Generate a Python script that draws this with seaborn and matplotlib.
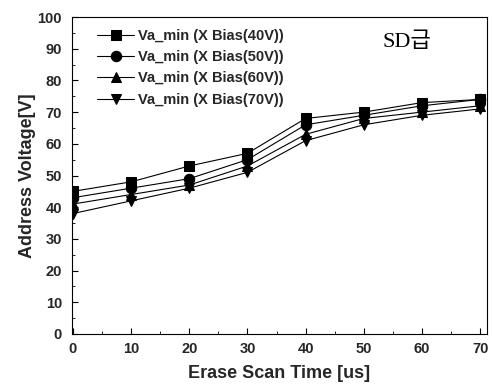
import numpy as np
import pandas as pd
import matplotlib
matplotlib.use("Agg")
import matplotlib.pyplot as plt
import seaborn as sns
from matplotlib.ticker import MultipleLocator

time_us = [0, 10, 20, 30, 40, 50, 60, 70]
va_40 = [45, 48, 53, 57, 68, 70, 73, 74]
va_50 = [43, 46, 49, 55, 66, 69, 72, 74]
va_60 = [41, 44, 47, 53, 63, 68, 70, 72]
va_70 = [38, 42, 46, 51, 61, 66, 69, 71]
labels = ["Va_min (X Bias(40V))", "Va_min (X Bias(50V))",
          "Va_min (X Bias(60V))", "Va_min (X Bias(70V))"]

sns.set_theme(style="ticks")
plt.rcParams['font.family'] = ['Liberation Sans', 'DejaVu Sans']

rows = []
for lab, vals in zip(labels, [va_40, va_50, va_60, va_70]):
    for t, v in zip(time_us, vals):
        rows.append({"t": t, "v": v, "series": lab})
df = pd.DataFrame(rows)

fig = plt.figure(figsize=(4.92, 3.87), dpi=100)
ax = fig.add_axes([0.146, 0.137, 0.844, 0.819])

markers = dict(zip(labels, ["s", "o", "^", "v"]))
palette = dict(zip(labels, ["black"] * 4))
sns.lineplot(data=df, x="t", y="v", hue="series", style="series",
             markers=markers, dashes=False, palette=palette, ax=ax,
             linewidth=0.8, markersize=7.5, markeredgecolor="black")

ax.set_xlim(-0.2, 71.2)
ax.set_ylim(0, 100)
ax.xaxis.set_major_locator(MultipleLocator(10))
ax.xaxis.set_minor_locator(MultipleLocator(5))
ax.yaxis.set_major_locator(MultipleLocator(10))
ax.yaxis.set_minor_locator(MultipleLocator(5))
ax.tick_params(which="both", direction="in", top=False, right=False,
               color="black")
ax.tick_params(which="major", length=4, width=0.8, labelsize=10.5)
ax.tick_params(axis="x", which="major", pad=6)
ax.tick_params(axis="y", which="major", pad=7)
ax.tick_params(which="minor", length=2, width=0.6)
for lbl in ax.get_xticklabels() + ax.get_yticklabels():
    lbl.set_fontweight("bold")
for s in ax.spines.values():
    s.set_color("black")
    s.set_linewidth(0.8)

ax.set_xlabel("Erase Scan Time [us]", fontsize=13, fontweight="bold", labelpad=6)
ax.set_ylabel("Address Voltage[V]", fontsize=13, fontweight="bold", labelpad=1)

leg = ax.legend(loc="upper left", frameon=False,
                prop={"size": 10.5, "weight": "bold"},
                bbox_to_anchor=(0.035, 0.995), labelspacing=0.5,
                handlelength=2.6, handletextpad=0.25, borderaxespad=0.3)

ax.text(0.749, 0.921, "SD급", transform=ax.transAxes, fontsize=16,
        family=['Liberation Serif', 'Noto Sans CJK KR'], color="black",
        ha="left", va="center")

fig.savefig("out.png", dpi=100)
